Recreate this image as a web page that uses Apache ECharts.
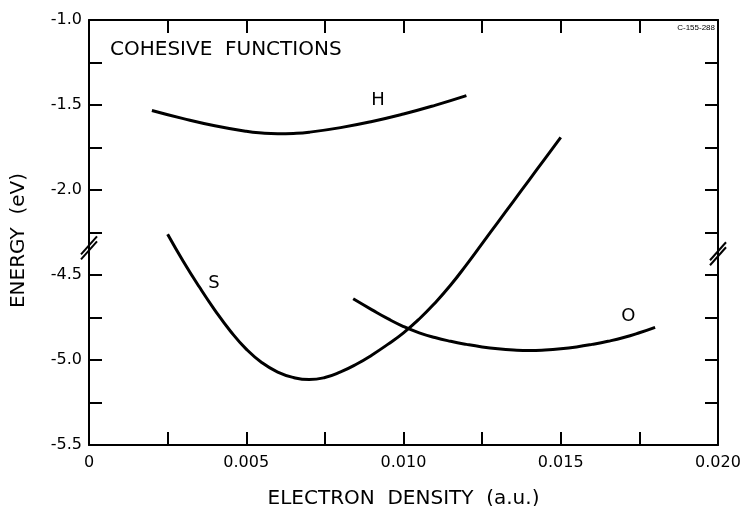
<!DOCTYPE html>
<html>
<head>
<meta charset="utf-8">
<script src="https://cdn.jsdelivr.net/npm/echarts@6/dist/echarts.min.js"></script>
<style>
  html, body { margin: 0; padding: 0; background: #fff; }
  #chart { width: 743px; height: 506px; }
</style>
</head>
<body>
<div id="chart"></div>
<script>
// Cohesive functions: energy (eV) against electron density (a.u.)
// H is read against the upper energy scale, S and O against the lower one.
const hDensity = [0.002, 0.003, 0.004, 0.005, 0.0055, 0.006, 0.0065, 0.007, 0.008, 0.009, 0.010, 0.011, 0.012];
const hEnergy  = [-1.532, -1.580, -1.622, -1.655, -1.665, -1.669, -1.667, -1.660, -1.633, -1.597, -1.553, -1.502, -1.445];

const sDensity = [0.0025, 0.003, 0.0035, 0.004, 0.0045, 0.005, 0.0055, 0.006, 0.0065, 0.007, 0.0075, 0.008, 0.0085,
                  0.009, 0.0095, 0.010, 0.0105, 0.011, 0.0115, 0.012, 0.0125, 0.013, 0.0135, 0.014, 0.0145, 0.015];
const sEnergy  = [-4.26, -4.42, -4.568, -4.706, -4.831, -4.936, -5.016, -5.071, -5.103, -5.115, -5.103, -5.07, -5.025,
                  -4.97, -4.908, -4.84, -4.759, -4.665, -4.559, -4.44, -4.315, -4.19, -4.065, -3.94, -3.815, -3.69];

const oDensity = [0.0084, 0.009, 0.0095, 0.010, 0.0105, 0.011, 0.0115, 0.012, 0.0125, 0.013, 0.0135, 0.014, 0.0145,
                  0.015, 0.0155, 0.016, 0.0165, 0.017, 0.0175, 0.018];
const oEnergy  = [-4.64, -4.705, -4.757, -4.803, -4.84, -4.868, -4.89, -4.908, -4.923, -4.934, -4.941, -4.944, -4.941,
                  -4.934, -4.923, -4.908, -4.89, -4.868, -4.84, -4.808];

// Curve name tags, placed in data units next to each curve
const curveNames = ['H', 'S', 'O'];
const nameDensity = [0.00919, 0.00397, 0.01715];
const nameEnergy  = [-1.47, -4.547, -4.745];

// Axis extents
const xRange = [0, 0.02];
const xStep = 0.0025;
const lowerRange = [-5.5, -3.0];   // labelled from -5.5 to -4.5
const upperRange = [-3.5, -1.0];   // labelled from -2.0 to -1.0
const yStep = 0.25;
const lowerLabelTop = -4.5;
const upperLabelBottom = -2.0;
const breakLeft = -4.34, breakRight = -4.375;  // lower-scale level of the axis break marks

const FONT = 'DejaVu Sans';
const INK = '#000';

const zip = (xs, ys) => xs.map((x, i) => [x, ys[i]]);

function xLabel(v) {
  const k = Math.round(v / xStep);
  if (k % 2 !== 0) return '';
  return k === 0 ? '0' : (k * xStep).toFixed(3);
}
function lowerLabel(v) {
  const q = Math.round(v / yStep);
  if (q % 2 !== 0 || v > lowerLabelTop + 1e-6) return '';
  return v.toFixed(1);
}
function upperLabel(v) {
  const q = Math.round(v / yStep);
  if (q % 2 !== 0 || v < upperLabelBottom - 1e-6) return '';
  return v.toFixed(1);
}

const axisLine = { show: true, onZero: false, lineStyle: { color: INK, width: 2 } };
const innerTick = { show: true, inside: true, length: 13, lineStyle: { color: INK, width: 2 } };
const tickFont = { color: INK, fontFamily: FONT, fontSize: 16 };

function tag(i) {
  return {
    symbol: 'circle',
    symbolSize: 0,
    silent: true,
    label: { show: true, position: 'inside', formatter: '{b}', color: INK, fontFamily: FONT, fontSize: 18 },
    data: [{ name: curveNames[i], coord: [nameDensity[i], nameEnergy[i]] }]
  };
}

function curve(name, xs, ys, yAxisIndex, i) {
  return {
    name: name,
    type: 'line',
    xAxisIndex: 0,
    yAxisIndex: yAxisIndex,
    data: zip(xs, ys),
    smooth: 0.5,
    showSymbol: false,
    lineStyle: { color: INK, width: 3 },
    itemStyle: { color: INK },
    markPoint: tag(i)
  };
}

const chart = echarts.init(document.getElementById('chart'), null, { renderer: 'canvas' });

chart.setOption({
  animation: false,
  backgroundColor: '#fff',
  grid: { left: 89, right: 25, top: 20, bottom: 61, containLabel: false, outerBoundsMode: 'none' },
  xAxis: [
    {
      type: 'value', position: 'bottom', min: xRange[0], max: xRange[1], interval: xStep,
      axisLine: axisLine, axisTick: innerTick, splitLine: { show: false },
      axisLabel: Object.assign({ margin: 10, formatter: xLabel, showMinLabel: true, showMaxLabel: true }, tickFont),
      name: 'ELECTRON  DENSITY  (a.u.)', nameLocation: 'middle', nameGap: 44,
      nameTextStyle: { color: INK, fontFamily: FONT, fontSize: 20 }
    },
    {
      type: 'value', position: 'top', min: xRange[0], max: xRange[1], interval: xStep,
      axisLine: axisLine, axisTick: innerTick, splitLine: { show: false }, axisLabel: { show: false }
    }
  ],
  yAxis: [
    {
      type: 'value', position: 'left', min: lowerRange[0], max: lowerRange[1], interval: yStep,
      axisLine: axisLine, axisTick: innerTick, splitLine: { show: false },
      axisLabel: Object.assign({ margin: 7, formatter: lowerLabel }, tickFont),
      name: 'ENERGY  (eV)', nameLocation: 'middle', nameGap: 60,
      nameTextStyle: { color: INK, fontFamily: FONT, fontSize: 20, padding: [0, 16, 0, 0] }
    },
    {
      type: 'value', position: 'left', offset: 0, min: upperRange[0], max: upperRange[1], interval: yStep,
      axisLine: { show: false }, axisTick: { show: false }, splitLine: { show: false },
      axisLabel: Object.assign({ margin: 7, formatter: upperLabel }, tickFont)
    },
    {
      type: 'value', position: 'right', min: lowerRange[0], max: lowerRange[1], interval: yStep,
      axisLine: axisLine, axisTick: innerTick, splitLine: { show: false }, axisLabel: { show: false }
    }
  ],
  series: [
    curve('H', hDensity, hEnergy, 1, 0),
    curve('S', sDensity, sEnergy, 0, 1),
    curve('O', oDensity, oEnergy, 0, 2)
  ]
});

// Axis break marks: a pair of slashes across each vertical axis line
function slashes(p) {
  const cx = p[0], cy = p[1];
  return [-2.5, 2.5].map(d => ({
    type: 'line', silent: true,
    shape: { x1: cx - 8, y1: cy + 9 + d, x2: cx + 8, y2: cy - 9 + d },
    style: { stroke: INK, lineWidth: 2 }
  }));
}
const leftBreak = chart.convertToPixel({ xAxisIndex: 0, yAxisIndex: 0 }, [xRange[0], breakLeft]);
const rightBreak = chart.convertToPixel({ xAxisIndex: 0, yAxisIndex: 0 }, [xRange[1], breakRight]);

chart.setOption({
  graphic: [
    { type: 'text', left: 110, top: 40, silent: true,
      style: { text: 'COHESIVE  FUNCTIONS', fill: INK, font: '20px "DejaVu Sans"' } },
    { type: 'text', right: 28, top: 24, silent: true,
      style: { text: 'C-155-288', fill: INK, font: '8px "Liberation Sans Narrow", "Liberation Sans"' } }
  ].concat(slashes(leftBreak), slashes(rightBreak))
});
</script>
</body>
</html>
